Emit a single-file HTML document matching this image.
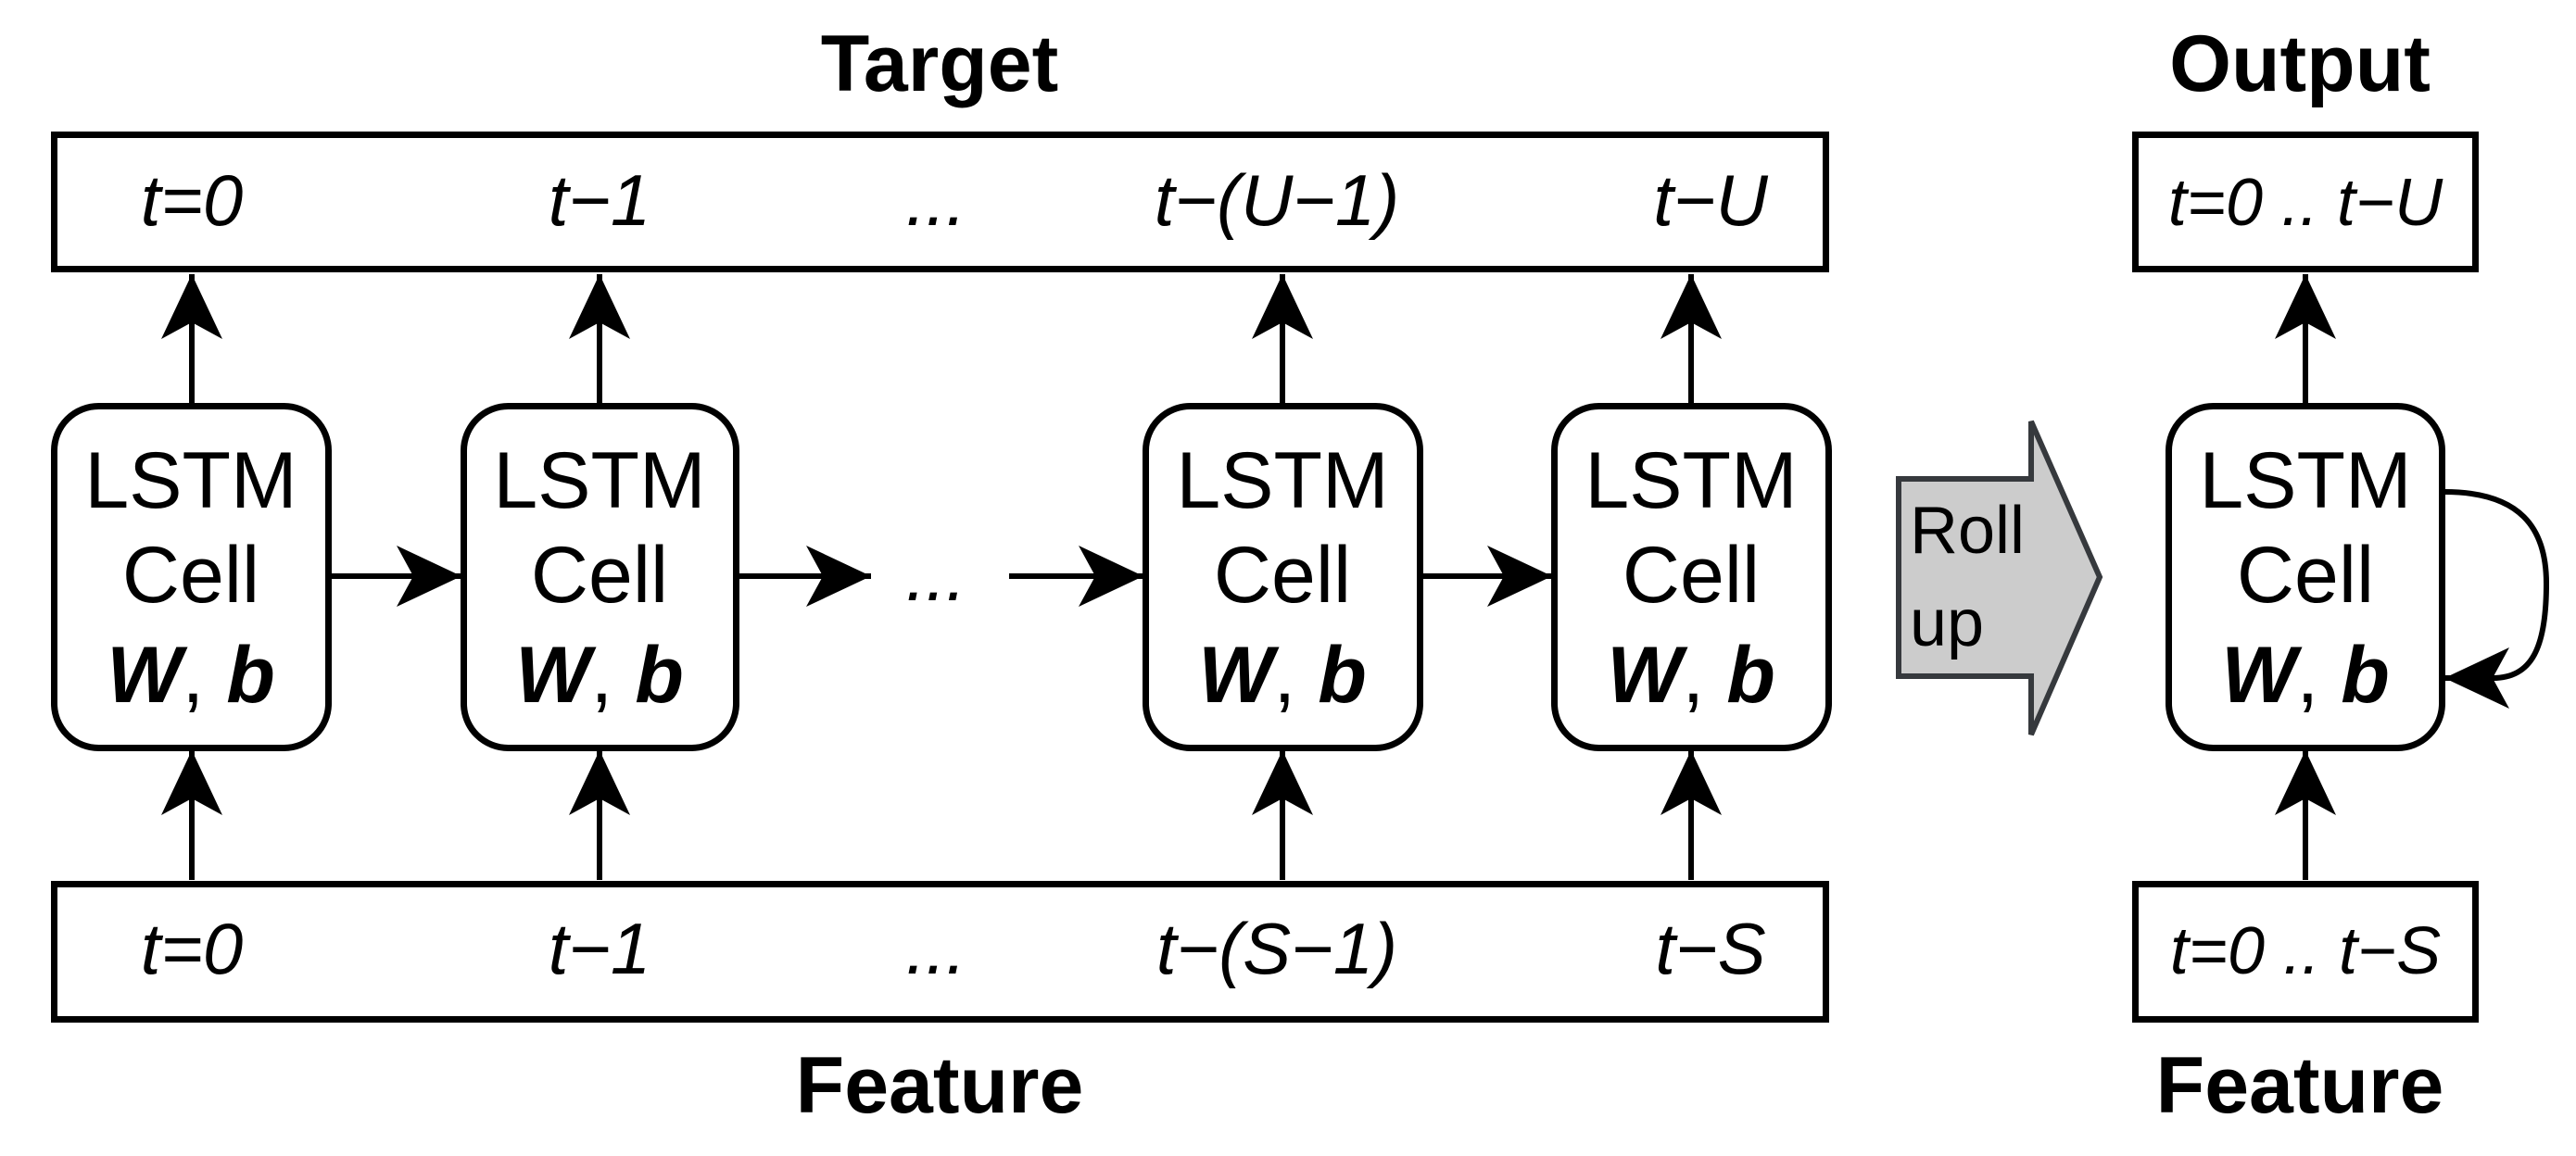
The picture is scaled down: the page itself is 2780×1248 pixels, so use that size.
<!DOCTYPE html>
<html><head><meta charset="utf-8"><style>html,body{margin:0;padding:0;background:#fff}svg{display:block}</style></head>
<body>
<svg width="2780" height="1248" viewBox="0 0 2780 1248" xmlns="http://www.w3.org/2000/svg" font-family="Liberation Sans, Arial, sans-serif">
<defs>
<marker id="ah" viewBox="0 0 70 66" refX="70" refY="33" markerWidth="70" markerHeight="66" markerUnits="userSpaceOnUse" orient="auto">
<path d="M0,0 L70,33 L0,66 L18,33 Z" fill="#000"/>
</marker>
</defs>
<g fill="none" stroke="#000" stroke-width="7">
<rect x="58.5" y="145.5" width="1912" height="145"/>
<rect x="58.5" y="954.5" width="1912" height="146"/>
<rect x="2304.5" y="145.5" width="367" height="145"/>
<rect x="2304.5" y="954.5" width="367" height="146"/>
<rect x="58.5" y="438.5" width="296" height="369" rx="48"/>
<rect x="500.5" y="438.5" width="294" height="369" rx="48"/>
<rect x="1236.5" y="438.5" width="296" height="369" rx="48"/>
<rect x="1677.5" y="438.5" width="296" height="369" rx="48"/>
<rect x="2340.5" y="438.5" width="295" height="369" rx="48"/>
</g>
<g stroke="#000" stroke-width="6" fill="none" marker-end="url(#ah)">
<line x1="207" y1="436" x2="207" y2="296"/>
<line x1="647" y1="436" x2="647" y2="296"/>
<line x1="1384" y1="436" x2="1384" y2="296"/>
<line x1="1825" y1="436" x2="1825" y2="296"/>
<line x1="2488" y1="436" x2="2488" y2="296"/>
<line x1="207" y1="950" x2="207" y2="810"/>
<line x1="647" y1="950" x2="647" y2="810"/>
<line x1="1384" y1="950" x2="1384" y2="810"/>
<line x1="1825" y1="950" x2="1825" y2="810"/>
<line x1="2488" y1="950" x2="2488" y2="810"/>
<line x1="357" y1="622" x2="498" y2="622"/>
<line x1="797" y1="622" x2="940" y2="622"/>
<line x1="1089" y1="622" x2="1234" y2="622"/>
<line x1="1535" y1="622" x2="1675" y2="622"/>
<path d="M2638,531 C2720,531 2748,570 2748,630 C2748,700 2732,732 2690,732 L2638,732"/>
</g>
<path d="M2049,517 L2192,517 L2192,455 L2266,623 L2192,793 L2192,730 L2049,730 Z" fill="#cccccc" stroke="#36393d" stroke-width="6"/>
<text x="2061" y="597" font-size="72" fill="#000">Roll</text>
<text x="2061" y="697" font-size="72" fill="#000">up</text>
<g font-size="86" font-weight="bold" text-anchor="middle" fill="#000">
<text x="1014" y="98">Target</text>
<text x="1014" y="1201">Feature</text>
<text x="2482" y="98">Output</text>
<text x="2482" y="1201">Feature</text>
</g>
<g font-size="78" font-style="italic" text-anchor="middle" fill="#000">
<text x="207" y="243">t=0</text>
<text x="647" y="243">t−1</text>
<text x="1010" y="243">...</text>
<text x="1378" y="243">t−(U−1)</text>
<text x="1846" y="243">t−U</text>
<text x="207" y="1051">t=0</text>
<text x="647" y="1051">t−1</text>
<text x="1010" y="1051">...</text>
<text x="1378" y="1051">t−(S−1)</text>
<text x="1846" y="1051">t−S</text>
<text x="1010" y="648">...</text>
<text x="2488" y="243" font-size="72">t=0 .. t−U</text>
<text x="2488" y="1051" font-size="72">t=0 .. t−S</text>
</g>
<g font-size="86" text-anchor="middle" fill="#000">
<text x="206" y="548">LSTM</text><text x="206" y="650">Cell</text>
<text x="206" y="758"><tspan font-weight="bold" font-style="italic">W</tspan>, <tspan font-weight="bold" font-style="italic">b</tspan></text>
<text x="647" y="548">LSTM</text><text x="647" y="650">Cell</text>
<text x="647" y="758"><tspan font-weight="bold" font-style="italic">W</tspan>, <tspan font-weight="bold" font-style="italic">b</tspan></text>
<text x="1384" y="548">LSTM</text><text x="1384" y="650">Cell</text>
<text x="1384" y="758"><tspan font-weight="bold" font-style="italic">W</tspan>, <tspan font-weight="bold" font-style="italic">b</tspan></text>
<text x="1825" y="548">LSTM</text><text x="1825" y="650">Cell</text>
<text x="1825" y="758"><tspan font-weight="bold" font-style="italic">W</tspan>, <tspan font-weight="bold" font-style="italic">b</tspan></text>
<text x="2488" y="548">LSTM</text><text x="2488" y="650">Cell</text>
<text x="2488" y="758"><tspan font-weight="bold" font-style="italic">W</tspan>, <tspan font-weight="bold" font-style="italic">b</tspan></text>
</g>
</svg>
</body></html>
